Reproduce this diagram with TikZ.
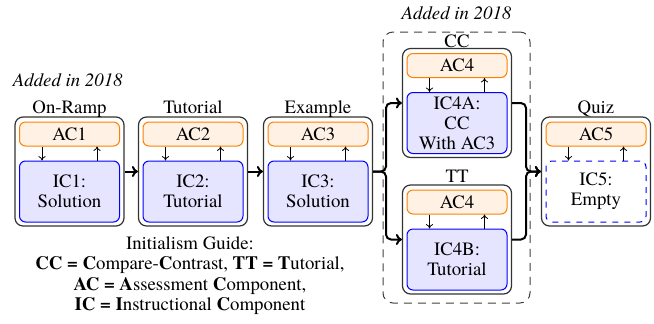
\documentclass[tikz,border=0pt]{standalone}
\usepackage{fontspec}
\setmainfont{TeX Gyre Termes}
\usetikzlibrary{calc,arrows.meta}
\begin{document}
\begin{tikzpicture}[x=0.5pt,y=-0.5pt,
  font=\rmfamily\fontsize{9.4}{10}\selectfont,
  outer/.style={draw=black!80,line width=0.6pt,rounded corners=4pt,minimum width=54.5pt,minimum height=54.5pt,inner sep=0pt},
  acbox/.style={draw=orange,fill=orange!10,line width=0.5pt,rounded corners=3pt,minimum width=50pt,minimum height=12pt,inner sep=0pt},
  icbox/.style={draw=blue,fill=blue!10,line width=0.5pt,rounded corners=3pt,minimum width=50pt,minimum height=30.5pt,inner sep=0pt,align=center},
  icempty/.style={draw=blue,dashed,fill=white,line width=0.5pt,rounded corners=3pt,minimum width=50pt,minimum height=30.5pt,inner sep=0pt,align=center},
  lab/.style={anchor=base,inner sep=0pt},
  thin arrow/.style={-{To[length=2.2pt,width=3.6pt]},line width=0.4pt},
  conn/.style={-{To[length=3pt,width=5.5pt]},line width=1pt,rounded corners=2.5pt},
  region/.style={draw=black!75,dashed,dash pattern=on 4pt off 3pt,line width=0.5pt,rounded corners=5pt}
]
\useasboundingbox (0,0) rectangle (654,323);

% dashed region
\node[region,minimum width=73.5pt,minimum height=135.5pt,inner sep=0pt] (reg) at (456.5,167.5) {};
\node[lab,font=\rmfamily\fontsize{9.4}{10}\selectfont\itshape] (add2) at (456.5,19) {Added in 2018};
\node[lab,font=\rmfamily\fontsize{9.4}{10}\selectfont\itshape,anchor=base west] (add1) at (12.5,86.5) {Added in 2018};

% boxes
\foreach \n/\cx/\cy/\ac/\ictxt/\lbl/\ly in {
  b1/69.5/171.5/AC1/{IC1:\\Solution}/On-Ramp/113,
  b2/193/171.5/AC2/{IC2:\\Tutorial}/Tutorial/113,
  b3/318/171.5/AC3/{IC3:\\Solution}/Example/113,
  cc/457/103/AC4/{IC4A:\\CC\\With AC3}/CC/47.5,
  tt/457/239.5/AC4/{IC4B:\\Tutorial}/TT/182.7}{
  \node[outer] (\n) at (\cx,\cy) {};
  \node[acbox] (\n ac) at (\cx,\cy-37.5) {\ac};
  \node[icbox] (\n ic) at (\cx,\cy+20) {\ictxt};
  \node[lab] (\n lab) at (\cx,\ly) {\lbl};
  \draw[thin arrow] ([xshift=-13.75pt]\n ac.south) -- ([xshift=-13.75pt]\n ic.north);
  \draw[thin arrow] ([xshift=13.75pt]\n ic.north) -- ([xshift=13.75pt]\n ac.south);
}
% quiz
\node[outer] (qz) at (596,171.5) {};
\node[acbox] (qzac) at (596,134) {AC5};
\node[icempty] (qzic) at (596,191.5) {IC5:\\Empty};
\node[lab] (qzlab) at (596,113) {Quiz};
\draw[thin arrow] ([xshift=-13.75pt]qzac.south) -- ([xshift=-13.75pt]qzic.north);
\draw[thin arrow] ([xshift=13.75pt]qzic.north) -- ([xshift=13.75pt]qzac.south);

% connectors
\coordinate (split) at (386,171.5);
\coordinate (merge) at (526,171.5);
\draw[conn] (b1) -- (b2);
\draw[conn] (b2) -- (b3);
\draw[conn] (b3.east) -- (split) |- (cc.west);
\draw[conn] (b3.east) -- (split) |- (tt.west);
\draw[conn] (cc.east) -| (merge) -- (qz.west);
\draw[conn] (tt.east) -| (merge) -- (qz.west);

% guide
\node[align=center,inner sep=0pt,font=\rmfamily\fontsize{9.4}{10.25}\selectfont] (guide) at (190,275.5) {Initialism Guide:\\
\textbf{CC =} \textbf{C}ompare-\textbf{C}ontrast, \textbf{TT =} \textbf{T}utorial,\\
\textbf{AC =} \textbf{A}ssessment \textbf{C}omponent,\\
\textbf{IC =} \textbf{I}nstructional \textbf{C}omponent};
\end{tikzpicture}
\end{document}
